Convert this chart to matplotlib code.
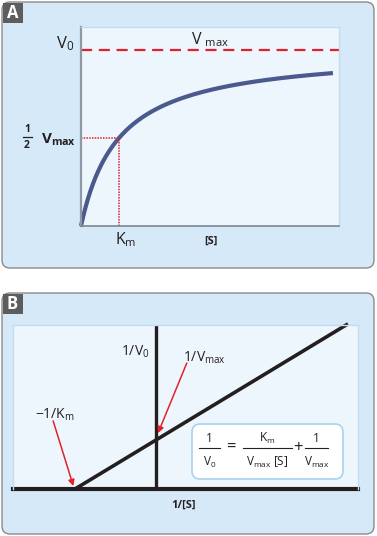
import numpy as np
import matplotlib
matplotlib.use("Agg")
import matplotlib.pyplot as plt
from matplotlib.patches import FancyBboxPatch, Rectangle

plt.rcParams['font.family'] = ['Open Sans', 'DejaVu Sans']
plt.rcParams['mathtext.fontset'] = 'custom'
plt.rcParams['mathtext.rm'] = 'Open Sans'
plt.rcParams['mathtext.it'] = 'Open Sans:italic'
plt.rcParams['mathtext.bf'] = 'Open Sans:bold'

# ---- data ----
Km = 1.0
Vmax = 1.0
S_max = 6.63
S = np.linspace(0, S_max, 400)
V0 = Vmax * S / (Km + S)

# Lineweaver-Burk
inv_S_range = [-1.0 / Km, 2.37]
inv_V0 = [(Km / Vmax) * x + 1.0 / Vmax for x in inv_S_range]

W, H = 377, 536
fig = plt.figure(figsize=(W / 100, H / 100), dpi=100)

# background axes in pixel coords
bg = fig.add_axes([0, 0, 1, 1], zorder=0)
bg.set_xlim(0, W); bg.set_ylim(H, 0); bg.axis('off')
outer_fc = '#d6e9f8'
for (y0, y1) in [(2, 268), (293, 534)]:
    bg.add_patch(FancyBboxPatch((2, y0), 372, y1 - y0, boxstyle='round,pad=0,rounding_size=8',
                                fc=outer_fc, ec='#8a8a8a', lw=1))
    bg.add_patch(Rectangle((2.5, y0 + 0.5), 20, 20, fc='#5d5d5d', ec='none'))

bg.text(12.5, 12.5, 'A', color='white', fontsize=12, fontweight='bold', ha='center', va='center')
bg.text(12.5, 304, 'B', color='white', fontsize=12, fontweight='bold', ha='center', va='center')

def fax(l, t, r, b):
    return [l / W, 1 - b / H, (r - l) / W, (b - t) / H]

# ---- Panel A ----
axA = fig.add_axes(fax(81, 27, 339, 226), zorder=1)
axA.set_facecolor('#eef6fd')
axA.set_xlim(0, (339 - 81) / 38.0)
axA.set_ylim(0, (226 - 27) / 176.0)
axA.plot(S, V0, color='#4b5a8c', lw=3, solid_capstyle='butt', clip_on=False)
axA.axhline(Vmax, color='#e0212b', lw=1.6, ls=(0, (5, 3)))
axA.plot([0, Km], [Vmax / 2, Vmax / 2], color='#e0212b', lw=1.1, ls=(0, (1, 0.8)))
axA.plot([Km, Km], [0, Vmax / 2], color='#e0212b', lw=1.1, ls=(0, (1, 0.8)))
axA.set_xticks([]); axA.set_yticks([])
for s in ['top', 'right']:
    axA.spines[s].set_color('#c2ddf2'); axA.spines[s].set_linewidth(1)
axA.spines['left'].set_color('#8d9aa6'); axA.spines['left'].set_linewidth(1.6)
axA.spines['bottom'].set_color('#7a8794'); axA.spines['bottom'].set_linewidth(1.2)

# ---- Panel B ----
axB = fig.add_axes(fax(13, 325, 358, 489), zorder=1)
axB.set_facecolor('#eef6fd')
xs = 81.0; ys = 49.0
axB.set_xlim((13 - 156) / xs, (358 - 156) / xs)
axB.set_ylim(0, (489 - 325) / ys)
axB.plot(inv_S_range, inv_V0, color='#231f20', lw=2.6, solid_capstyle='butt', clip_on=False)
axB.axvline(0, color='#231f20', lw=2.4)
axB.axhline(0, color='#231f20', lw=3, clip_on=False)
axB.set_xticks([]); axB.set_yticks([])
for s in ['top', 'right', 'left']:
    axB.spines[s].set_color('#c2ddf2'); axB.spines[s].set_linewidth(1)
axB.spines['bottom'].set_visible(False)

arrow = dict(arrowstyle='-|>', color='#e3202c', lw=1.1, mutation_scale=9, shrinkA=0, shrinkB=0)
axB.annotate('', xy=(0.025, 1.14), xytext=(0.38, 2.57), arrowprops=arrow)
axB.annotate('', xy=(-1.02, 0.06), xytext=(-1.27, 1.39), arrowprops=arrow)

# foreground overlay in pixel coords
fg = fig.add_axes([0, 0, 1, 1], zorder=3)
fg.set_xlim(0, W); fg.set_ylim(H, 0); fg.axis('off'); fg.patch.set_alpha(0)

txt = '#231f20'
fg.text(74, 44, r'V$_\mathrm{0}$', fontsize=12, ha='right', va='center', color=txt)
fg.text(210, 40, r'V $_\mathrm{max}$', fontsize=11.5, ha='center', va='center', color=txt)
# 1/2 Vmax (bold, built from pieces)
fg.text(27, 130, '1', fontsize=7.5, fontweight='bold', ha='center', va='center', color=txt)
fg.plot([23, 31.5], [137, 137], color=txt, lw=0.9)
fg.text(27, 145.5, '2', fontsize=7.5, fontweight='bold', ha='center', va='center', color=txt)
fg.text(41, 140, r'$\mathbf{V_{max}}$', fontsize=11, ha='left', va='center', color=txt)
fg.text(126, 240, r'K$_\mathrm{m}$', fontsize=11.5, ha='center', va='center', color=txt)
fg.text(211, 241, '[S]', fontsize=8, fontweight='bold', ha='center', va='center', color=txt)

fg.text(150, 352, r'1/V$_\mathrm{0}$', fontsize=10, ha='right', va='center', color=txt)
fg.text(183, 358, r'1/V$_\mathrm{max}$', fontsize=10, ha='left', va='center', color=txt)
fg.text(35, 415, r'$-$1/K$_\mathrm{m}$', fontsize=10, ha='left', va='center', color=txt)
fg.text(184, 505, '1/[S]', fontsize=8, fontweight='bold', ha='center', va='center', color=txt)

# equation box
fg.add_patch(FancyBboxPatch((192, 424), 151, 55, boxstyle='round,pad=0,rounding_size=8',
                            fc='white', ec='#a9d2ee', lw=1.2))
eq_fs = 8.5
num_y, bar_y, den_y = 438, 448, 462
fg.text(209.5, num_y, '1', fontsize=eq_fs, ha='center', va='center', color=txt)
fg.plot([199, 220], [bar_y, bar_y], color=txt, lw=0.8)
fg.text(209.5, den_y, r'V$_\mathrm{0}$', fontsize=eq_fs, ha='center', va='center', color=txt)
fg.text(231, bar_y, '=', fontsize=12, ha='center', va='center', color=txt)
fg.text(267, num_y, r'K$_\mathrm{m}$', fontsize=eq_fs, ha='center', va='center', color=txt)
fg.plot([243, 292], [bar_y, bar_y], color=txt, lw=0.8)
fg.text(267, den_y, r'V$_\mathrm{max}$ [S]', fontsize=eq_fs, ha='center', va='center', color=txt)
fg.text(298, bar_y, '+', fontsize=12, ha='center', va='center', color=txt)
fg.text(316, num_y, '1', fontsize=eq_fs, ha='center', va='center', color=txt)
fg.plot([305, 328], [bar_y, bar_y], color=txt, lw=0.8)
fg.text(317, den_y, r'V$_\mathrm{max}$', fontsize=eq_fs, ha='center', va='center', color=txt)

fig.savefig('out.png', dpi=100)
